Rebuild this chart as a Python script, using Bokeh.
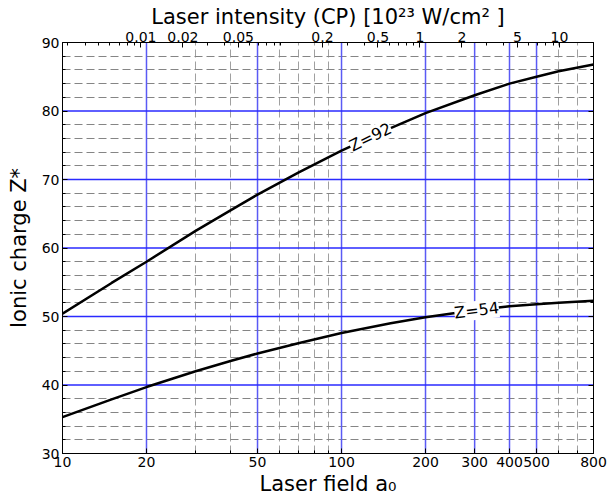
import math
from bokeh.plotting import figure
from bokeh.models import (LogAxis, LinearAxis, FixedTicker, CustomJSTickFormatter,
                          Label, Range1d, Span)
from bokeh.embed import file_html
from bokeh.resources import INLINE

# ---- data ----
A0 = [10, 15, 20, 30, 40, 50, 70, 100, 150, 200, 300, 400, 500, 600, 800]
Z92 = [50.4, 54.9, 58.0, 62.5, 65.5, 67.8, 71.0, 74.2, 77.5, 79.7, 82.3, 84.0, 85.0, 85.8, 86.8]
Z54 = [35.3, 37.9, 39.7, 42.0, 43.5, 44.6, 46.1, 47.6, 49.0, 49.9, 50.9, 51.5, 51.8, 52.0, 52.3]

X_MAJOR = [10, 20, 50, 100, 200, 300, 400, 500, 800]
X_MINOR = [30, 40, 60, 70, 80, 90, 600, 700]
Y_MAJOR = [30, 40, 50, 60, 70, 80, 90]
Y_MINOR = [32, 34, 36, 38, 42, 44, 46, 48, 52, 54, 56, 58, 62, 64, 66, 68,
           72, 74, 76, 78, 82, 84, 86, 88]

# top axis: circular-polarisation intensity in 1e23 W/cm^2 (lambda = 1 um)
CP_FACTOR = 2.74e-5  # I[1e23 W/cm2] = CP_FACTOR * a0^2
I_MAJOR = [0.01, 0.02, 0.05, 0.2, 0.5, 1, 2, 5, 10]
I_LABELS = ["0.01", "0.02", "0.05", "0.2", "0.5", "1", "2", "5", "10"]
I_MINOR = [0.003, 0.004, 0.005, 0.006, 0.007, 0.008, 0.009,
           0.03, 0.04, 0.06, 0.07, 0.08, 0.09, 0.1,
           0.3, 0.4, 0.6, 0.7, 0.8, 0.9, 3, 4, 6, 7, 8, 9]

LABELS = [("Z=92", 127, 76.2, 26), ("Z=54", 305, 50.9, 7)]

FONT = "DejaVu Sans"

def a0_of(i):
    return math.sqrt(i / CP_FACTOR)

top_major = [a0_of(i) for i in I_MAJOR]
top_minor = [a0_of(i) for i in I_MINOR]

p = figure(width=608, height=504, x_axis_type="log",
           x_range=Range1d(10, 800), y_range=Range1d(30, 90),
           output_backend="svg", toolbar_location=None,
           min_border_left=62, min_border_right=15,
           min_border_top=42, min_border_bottom=51)
p.outline_line_color = "black"
p.background_fill_color = "white"
p.border_fill_color = "white"

xt = FixedTicker(ticks=X_MAJOR, minor_ticks=X_MINOR)
yt = FixedTicker(ticks=Y_MAJOR, minor_ticks=Y_MINOR)

def style(ax):
    ax.axis_line_color = "black"
    ax.axis_line_width = 1
    ax.major_tick_in = 5
    ax.major_tick_out = 0
    ax.minor_tick_in = 3
    ax.minor_tick_out = 0
    ax.major_tick_line_color = "black"
    ax.minor_tick_line_color = "black"
    ax.major_label_text_font = FONT
    ax.major_label_text_font_size = "14px"
    ax.major_label_text_color = "black"
    ax.axis_label_text_font = FONT
    ax.axis_label_text_font_size = "21px"
    ax.axis_label_text_font_style = "normal"
    ax.axis_label_text_color = "black"
    ax.major_label_standoff = 3

bx = p.xaxis[0]
bx.ticker = xt
bx.formatter = CustomJSTickFormatter(code="return String(Math.round(tick));")
bx.axis_label = "Laser field a\u2080"
style(bx)
bx.axis_label_standoff = 2

ly = p.yaxis[0]
ly.ticker = yt
ly.axis_label = "Ionic charge Z*"
style(ly)
ly.axis_label_standoff = 8

top = LogAxis(ticker=FixedTicker(ticks=top_major, minor_ticks=top_minor),
              formatter=CustomJSTickFormatter(args=dict(t=top_major, l=I_LABELS), code="""
                  for (let i = 0; i < t.length; i++) {
                      if (Math.abs(t[i] - tick) < 1e-6 * tick) return l[i];
                  }
                  return "";
              """),
              axis_label="Laser intensity (CP) [10\u00b2\u00b3 W/cm\u00b2 ]")
style(top)
top.major_label_standoff = 1
top.axis_label_standoff = 0
p.add_layout(top, "above")

right = LinearAxis(ticker=yt, formatter=CustomJSTickFormatter(code="return '';"))
style(right)
right.major_label_standoff = 0
p.add_layout(right, "right")

# minor dashed grid from the grids, major solid grid as spans
p.xgrid.ticker = xt
p.xgrid.grid_line_color = None
p.xgrid.minor_grid_line_color = "#a0a0a0"
p.xgrid.minor_grid_line_dash = "8 4"
p.ygrid.ticker = yt
p.ygrid.grid_line_color = None
p.ygrid.minor_grid_line_color = "#858585"
p.ygrid.minor_grid_line_dash = "8 4"

for xv in X_MAJOR[1:-1]:
    p.add_layout(Span(location=xv, dimension="height", line_color="#5a5af5",
                      line_width=1.5, level="underlay"))
for yv in Y_MAJOR[1:-1]:
    p.add_layout(Span(location=yv, dimension="width", line_color="#2a2aff",
                      line_width=1.5, level="underlay"))

p.line(A0, Z92, line_width=2.5, line_color="black")
p.line(A0, Z54, line_width=2.5, line_color="black")

for txt, lx, ly_, ang in LABELS:
    p.add_layout(Label(x=lx, y=ly_, text=txt, angle=ang, angle_units="deg",
                       text_align="center", text_baseline="middle",
                       text_font=FONT, text_font_size="16px", text_color="black",
                       background_fill_color="white"))

open("out.html", "w").write(file_html(p, INLINE))
